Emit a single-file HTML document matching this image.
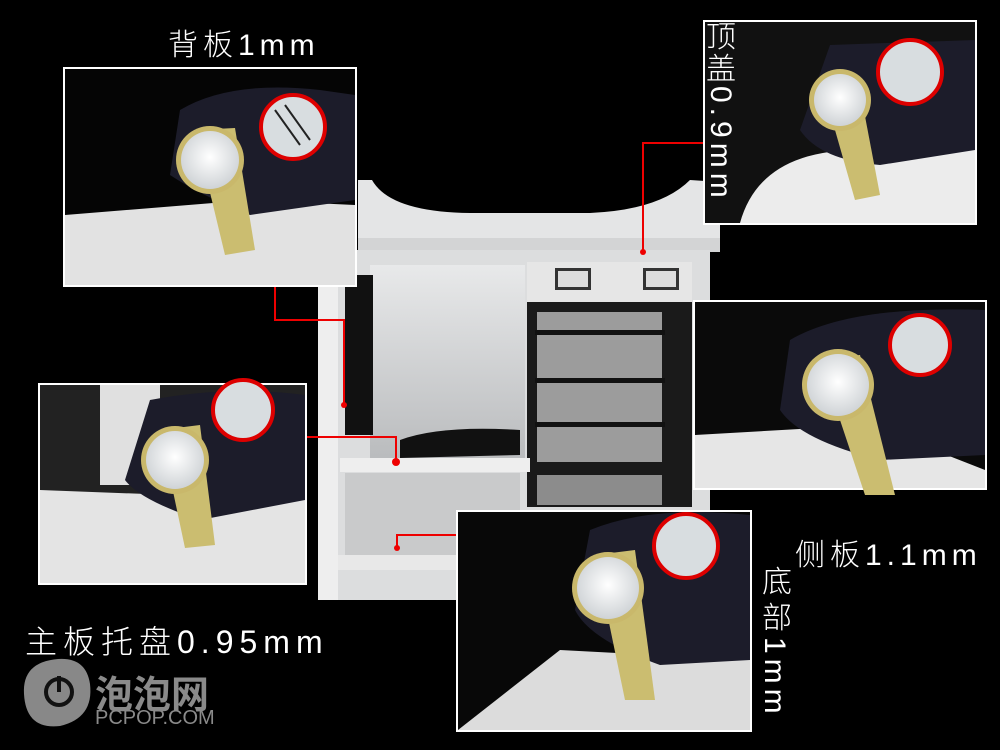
<!DOCTYPE html>
<html><head><meta charset="utf-8"><style>
html,body{margin:0;padding:0;background:#000;}
body{width:1000px;height:750px;overflow:hidden;position:relative;font-family:"Liberation Sans","Noto Sans CJK SC",sans-serif;}
svg{position:absolute;left:0;top:0;}
.t{position:absolute;color:#fff;font-family:"Liberation Sans","Noto Sans CJK SC",sans-serif;font-weight:300;white-space:nowrap;}
</style></head><body>
<svg width="1000" height="750" viewBox="0 0 1000 750">
<defs>
<radialGradient id="dial" cx="50%" cy="45%" r="55%"><stop offset="0" stop-color="#fff"/><stop offset="1" stop-color="#cfd3d6"/></radialGradient>
<linearGradient id="wall" x1="0" y1="0" x2="0" y2="1"><stop offset="0" stop-color="#e8e9ea"/><stop offset="1" stop-color="#b8babc"/></linearGradient>
</defs>
<rect width="1000" height="750" fill="#000"/>
<path d="M358 180 L372 180 Q390 212 470 213 L590 213 Q660 210 690 180 L720 182 L720 250 L358 250 Z" fill="#e4e5e6"/>
<rect x="358" y="238" width="362" height="14" fill="#d3d4d5"/>
<rect x="318" y="250" width="392" height="350" fill="#dcddde"/>
<rect x="318" y="250" width="20" height="350" fill="#eeeeee"/>
<rect x="370" y="265" width="155" height="200" fill="url(#wall)"/>
<rect x="345" y="275" width="28" height="160" fill="#111"/>
<rect x="527" y="262" width="165" height="40" fill="#e6e6e6"/>
<rect x="555" y="268" width="36" height="22" fill="#333"/><rect x="558" y="271" width="30" height="16" fill="#ddd"/>
<rect x="643" y="268" width="36" height="22" fill="#333"/><rect x="646" y="271" width="30" height="16" fill="#ddd"/>
<rect x="527" y="302" width="165" height="205" fill="#1a1a1a"/>
<rect x="537" y="312" width="125" height="150" fill="#9c9c9c"/>
<rect x="537" y="475" width="125" height="30" fill="#8c8c8c"/>
<rect x="535" y="330" width="130" height="5" fill="#111"/><rect x="535" y="378" width="130" height="5" fill="#111"/><rect x="535" y="422" width="130" height="5" fill="#111"/>
<rect x="340" y="458" width="190" height="14" fill="#eeeeee"/>
<rect x="345" y="473" width="175" height="82" fill="#c9cacb"/>
<rect x="338" y="555" width="190" height="15" fill="#e8e8e8"/>
<path d="M400 440 Q440 425 520 430 L520 455 L400 458 Z" fill="#111"/>
<g stroke="#e00" stroke-width="2" fill="none">
<path d="M275 287 L275 320 L344 320 L344 405"/>
<path d="M703 143 L643 143 L643 252"/>
<path d="M307 437 L396 437 L396 462"/>
<path d="M456 535 L397 535 L397 548"/>
</g>
<g fill="#e00"><circle cx="344" cy="405" r="3"/><circle cx="643" cy="252" r="3"/><circle cx="396" cy="462" r="4"/><circle cx="397" cy="548" r="3"/></g>

<g>
<rect x="63" y="67" width="294" height="220" fill="#fff"/>
<rect x="65" y="69" width="290" height="216" fill="#050505"/>
<path d="M65 215 L250 200 L355 205 L355 285 L65 285 Z" fill="#e2e2e2"/>
<path d="M180 110 Q230 80 320 90 L355 95 L355 200 L250 215 Q200 195 170 175 Z" fill="#1c1c2a"/>
<path d="M195 130 L235 128 L255 250 L225 255 Z" fill="#cbbd70"/>
<circle cx="210" cy="160" r="34" fill="#c9b86b"/><circle cx="210" cy="160" r="29" fill="url(#dial)"/>
<circle cx="293" cy="127" r="32" fill="#d8dde0" stroke="#d00" stroke-width="4"/>
<path d="M275 110 L300 145 M285 105 L310 140" stroke="#222" stroke-width="2"/>
</g>
<g>
<rect x="703" y="20" width="274" height="205" fill="#fff"/>
<rect x="705" y="22" width="270" height="201" fill="#111"/>
<path d="M740 223 Q760 150 860 150 L975 145 L975 223 Z" fill="#ececec"/>
<path d="M830 45 L975 40 L975 150 L880 165 Q820 160 800 130 Z" fill="#1c1c2a"/>
<path d="M825 95 L860 90 L880 195 L855 200 Z" fill="#cbbd70"/>
<circle cx="840" cy="100" r="31" fill="#c9b86b"/><circle cx="840" cy="100" r="26" fill="url(#dial)"/>
<circle cx="910" cy="72" r="32" fill="#d8dde0" stroke="#d00" stroke-width="4"/>
</g>
<g>
<rect x="693" y="300" width="294" height="190" fill="#fff"/>
<rect x="695" y="302" width="290" height="186" fill="#0a0a0a"/>
<path d="M695 435 L870 425 L985 470 L985 488 L695 488 Z" fill="#e6e6e6"/>
<path d="M790 340 Q850 305 985 310 L985 455 L880 460 Q800 440 780 410 Z" fill="#1c1c2a"/>
<path d="M820 360 L860 355 L895 495 L865 495 Z" fill="#cbbd70"/>
<circle cx="838" cy="385" r="36" fill="#c9b86b"/><circle cx="838" cy="385" r="31" fill="url(#dial)"/>
<circle cx="920" cy="345" r="30" fill="#d8dde0" stroke="#d00" stroke-width="4"/>
</g>
<g>
<rect x="38" y="383" width="269" height="202" fill="#fff"/>
<rect x="40" y="385" width="265" height="198" fill="#222"/>
<rect x="100" y="385" width="60" height="100" fill="#e0e0e0"/>
<path d="M40 490 L305 500 L305 583 L40 583 Z" fill="#e4e4e4"/>
<path d="M150 400 Q230 385 305 395 L305 500 L200 520 Q140 500 125 480 Z" fill="#1c1c2a"/>
<path d="M160 430 L200 425 L215 545 L185 548 Z" fill="#cbbd70"/>
<circle cx="175" cy="460" r="34" fill="#c9b86b"/><circle cx="175" cy="460" r="29" fill="url(#dial)"/>
<circle cx="243" cy="410" r="30" fill="#d8dde0" stroke="#d00" stroke-width="4"/>
</g>
<g>
<rect x="456" y="510" width="296" height="222" fill="#fff"/>
<rect x="458" y="512" width="292" height="218" fill="#080808"/>
<path d="M458 730 L560 650 L750 660 L750 730 Z" fill="#dcdcdc"/>
<path d="M590 530 Q650 505 750 515 L750 660 L660 665 Q590 640 575 610 Z" fill="#1c1c2a"/>
<path d="M595 555 L635 550 L655 700 L625 700 Z" fill="#cbbd70"/>
<circle cx="608" cy="588" r="36" fill="#c9b86b"/><circle cx="608" cy="588" r="31" fill="url(#dial)"/>
<circle cx="686" cy="546" r="32" fill="#d8dde0" stroke="#d00" stroke-width="4"/>
</g>
<path d="M24 694 Q22 662 58 659 Q86 657 90 684 Q94 718 60 726 Q26 730 24 694 Z" fill="#888"/>
<circle cx="59" cy="692" r="13" fill="none" stroke="#111" stroke-width="4"/>
<rect x="57" y="676" width="4" height="16" fill="#111"/>
</svg>
<div class="t" style="left:168px;top:20px;font-size:30px;letter-spacing:5px;">背板1mm</div>
<div class="t" style="left:706px;top:22px;font-size:30px;width:34px;white-space:normal;line-height:32px;">顶<br>盖<br><span style="display:inline-block;transform:rotate(90deg);transform-origin:0 0;margin-left:30px;letter-spacing:5px;">0.9mm</span></div>
<div class="t" style="left:795px;top:530px;font-size:30px;letter-spacing:5px;">侧板1.1mm</div>
<div class="t" style="left:762px;top:565px;font-size:30px;line-height:36px;">底<br>部<br><span style="display:inline-block;transform:rotate(90deg);transform-origin:0 0;margin-left:30px;letter-spacing:5px;">1mm</span></div>
<div class="t" style="left:25px;top:617px;font-size:32px;letter-spacing:6px;">主板托盘0.95mm</div>
<div class="t" style="left:95px;top:664px;font-size:38px;font-weight:bold;color:#8a8a8a;">泡泡网</div>
<div class="t" style="left:95px;top:707px;font-size:20px;color:#8a8a8a;">PCPOP.COM</div>
</body></html>
